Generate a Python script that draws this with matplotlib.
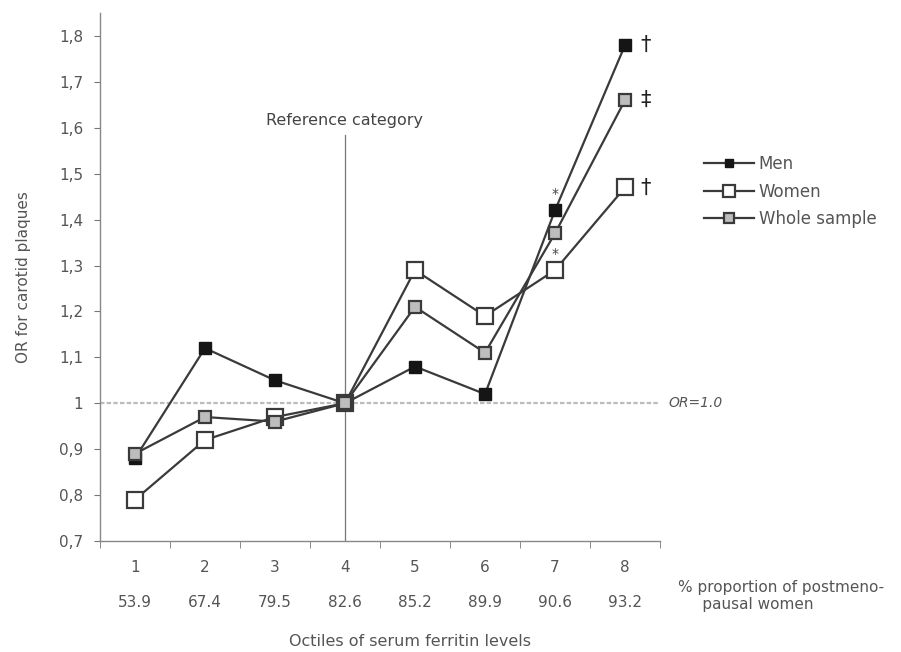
import numpy as np
import matplotlib.pyplot as plt
from matplotlib.ticker import FixedLocator

octiles = [1, 2, 3, 4, 5, 6, 7, 8]
postmeno_pct = ["53.9", "67.4", "79.5", "82.6", "85.2", "89.9", "90.6", "93.2"]
men = [0.88, 1.12, 1.05, 1.00, 1.08, 1.02, 1.42, 1.78]
women = [0.79, 0.92, 0.97, 1.00, 1.29, 1.19, 1.29, 1.47]
whole = [0.89, 0.97, 0.96, 1.00, 1.21, 1.11, 1.37, 1.66]
yticks = [0.7, 0.8, 0.9, 1.0, 1.1, 1.2, 1.3, 1.4, 1.5, 1.6, 1.7, 1.8]
ytick_labels = ["0,7", "0,8", "0,9", "1", "1,1", "1,2", "1,3", "1,4", "1,5", "1,6", "1,7", "1,8"]

txt = "#555555"
ln = "#3a3a3a"

fig = plt.figure(figsize=(9.01, 6.52), dpi=100)
ax = fig.add_axes([100/901, 111/652, 560/901, 528/652])

x = np.array(octiles)
ax.plot(x, men, color=ln, lw=1.6, marker="s", ms=8, mfc="#151515", mec="#151515", label="Men", zorder=3)
ax.plot(x, women, color=ln, lw=1.6, marker="s", ms=11.5, mfc="white", mec=ln, mew=1.6, label="Women", zorder=3)
ax.plot(x, whole, color=ln, lw=1.6, marker="s", ms=8.5, mfc="#bdbdbd", mec=ln, mew=1.6, label="Whole sample", zorder=4)

# reference lines
ax.axhline(1.0, color="#bbbbbb", lw=1.6, ls=(0, (2, 1)), zorder=1)
ax.plot([4, 4], [0.7, 1.585], color="#777777", lw=0.9, zorder=1)
ax.text(4, 1.60, "Reference category", ha="center", va="bottom", fontsize=11.5, color="#444444")
ax.text(1.015, 1.0, "OR=1.0", transform=ax.get_yaxis_transform(), ha="left", va="center",
        fontsize=10, style="italic", color=txt)

# significance marks
ax.text(8.22, men[7], "\u2020", ha="left", va="center", fontsize=15, color="#222222")
ax.text(8.22, whole[7], "\u2021", ha="left", va="center", fontsize=15, color="#222222")
ax.text(8.22, women[7], "\u2020", ha="left", va="center", fontsize=15, color="#222222")
ax.text(7, men[6] + 0.02, "*", ha="center", va="bottom", fontsize=10, color="#444444")
ax.text(7, women[6] + 0.02, "*", ha="center", va="bottom", fontsize=10, color="#444444")

ax.set_xlim(0.5, 8.5)
ax.set_ylim(0.7, 1.85)
ax.set_yticks(yticks)
ax.set_yticklabels(ytick_labels, fontsize=11, color=txt)
ax.set_xticks(octiles)
ax.set_xticklabels([f"{o}\n\n{p}" for o, p in zip(octiles, postmeno_pct)], fontsize=11, color=txt,
                   linespacing=1.2)
ax.xaxis.set_minor_locator(FixedLocator(np.arange(0.5, 9.0, 1.0)))
ax.tick_params(axis="x", which="major", length=0, pad=14)
ax.tick_params(axis="x", which="minor", length=5, color="#777777")
ax.tick_params(axis="y", length=4, color="#777777", pad=8)

for s in ["top", "right"]:
    ax.spines[s].set_visible(False)
for s in ["left", "bottom"]:
    ax.spines[s].set_color("#888888")
    ax.spines[s].set_linewidth(1.0)

ax.set_ylabel("OR for carotid plaques", fontsize=11, color=txt, labelpad=20)
ax.set_xlabel("Octiles of serum ferritin levels", fontsize=11.5, color=txt)
ax.xaxis.set_label_coords(310/560, -0.176)

fig.text(678/901, 1 - 596/652, "% proportion of postmeno-\n     pausal women", ha="left", va="center",
         fontsize=11, color=txt, linespacing=1.2)

leg = ax.legend(loc="upper left", bbox_to_anchor=(1.066, 0.744), frameon=False, fontsize=12,
                handlelength=3.0, labelspacing=0.58, handletextpad=0.3, borderaxespad=0,
                markerscale=0.8)
for t in leg.get_texts():
    t.set_color(txt)

fig.savefig("out.png", dpi=100)
